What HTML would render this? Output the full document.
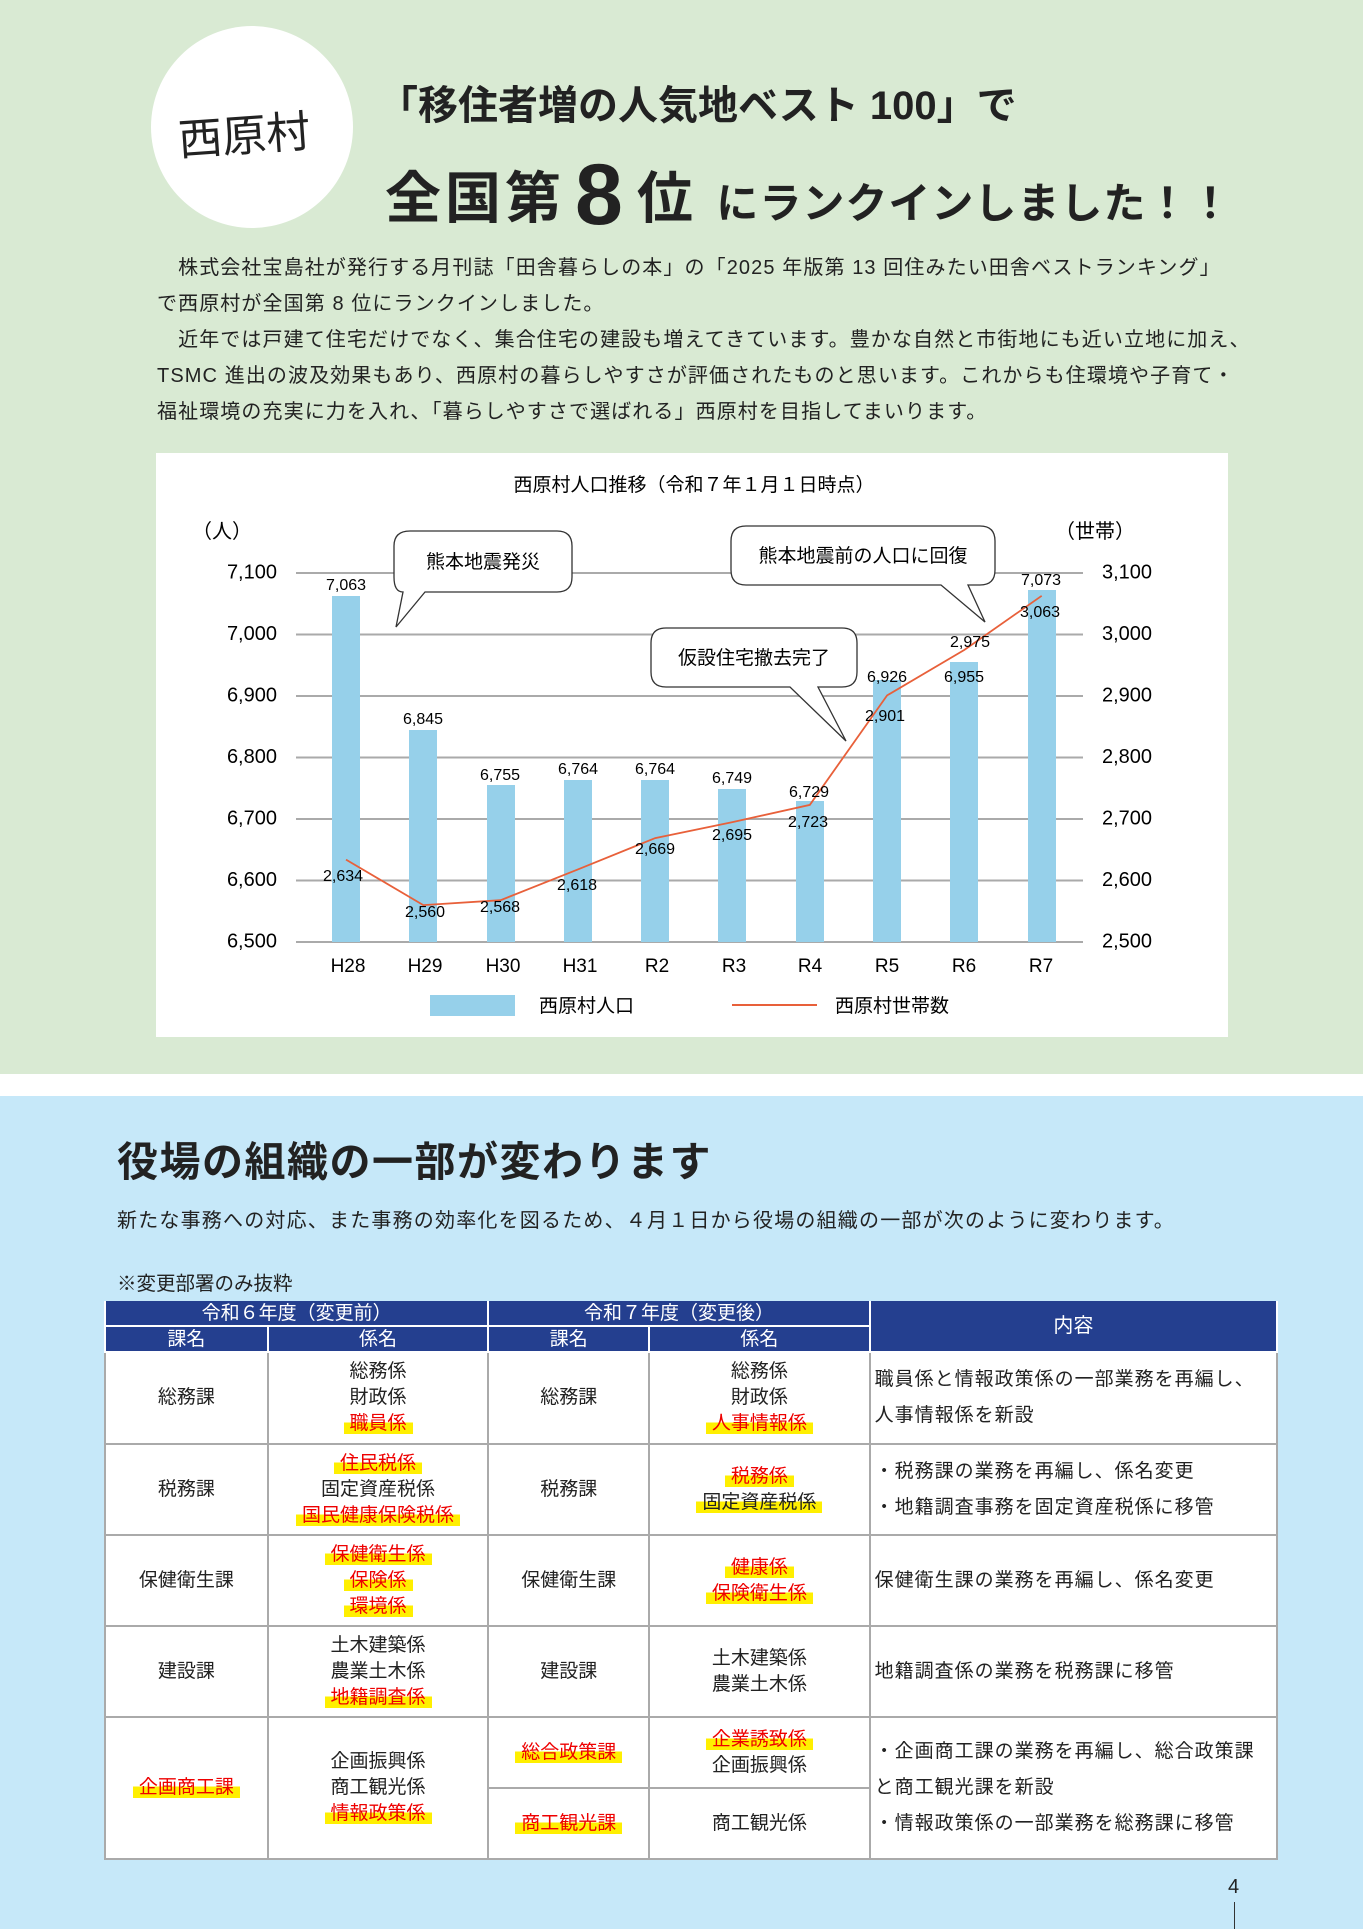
<!DOCTYPE html>
<html><head><meta charset="utf-8"><style>
*{margin:0;padding:0;box-sizing:border-box}
body{width:1363px;height:1929px;position:relative;background:#c6e8f9;font-family:"Liberation Sans","Noto Sans CJK JP",sans-serif;color:#222;overflow:hidden}
.a{position:absolute;white-space:nowrap}
table{position:absolute;left:104px;top:1301px;width:1174px;border-collapse:collapse;font-size:19px;background:#fff}
td,th{border:2px solid #aaa;text-align:center;line-height:26px;padding:0}
th{background:#243f8f;color:#fff;font-weight:normal;border:2px solid #fff;line-height:23px;border-top:none}
.r{color:#e00;background:linear-gradient(transparent 45%,#ffef00 45%);padding:0 6px}
.h{background:linear-gradient(transparent 45%,#ffef00 45%);padding:0 6px}
td.n{text-align:left;padding-left:4px;line-height:36px;letter-spacing:1px}
</style></head><body>
<div class="a" style="left:0;top:0;width:1363px;height:1074px;background:#d9ead3"></div>
<div class="a" style="left:0;top:1074px;width:1363px;height:22px;background:#fff"></div>
<div class="a" style="left:151px;top:26px;width:202px;height:202px;border-radius:50%;background:#fff"></div>
<div class="a" style="left:178px;top:100px;font-size:44px;font-family:'Noto Sans CJK JP',sans-serif;transform:rotate(-4deg)">西原村</div>
<div class="a" style="left:378px;top:73px;font-size:40px;font-weight:bold">「移住者増の人気地ベスト 100」で</div>
<div class="a" style="left:385px;top:140px;font-weight:bold;font-size:56px;letter-spacing:4px">全国第<span style="font-size:86px;margin:0 10px;position:relative;top:6px">8</span>位 <span style="font-size:42px;letter-spacing:1px">にランクインしました！！</span></div>
<div class="a" style="left:157px;top:250px;font-size:20px;letter-spacing:1.1px;line-height:36px;white-space:nowrap">
<div>　株式会社宝島社が発行する月刊誌「田舎暮らしの本」の「2025 年版第 13 回住みたい田舎ベストランキング」</div>
<div>で西原村が全国第 8 位にランクインしました。</div>
<div>　近年では戸建て住宅だけでなく、集合住宅の建設も増えてきています。豊かな自然と市街地にも近い立地に加え、</div>
<div>TSMC 進出の波及効果もあり、西原村の暮らしやすさが評価されたものと思います。これからも住環境や子育て・</div>
<div>福祉環境の充実に力を入れ、「暮らしやすさで選ばれる」西原村を目指してまいります。</div></div>
<svg class="a" style="left:0;top:0" width="1363" height="1100" font-family="Liberation Sans,Noto Sans CJK JP,sans-serif">
<rect x="156" y="453" width="1072" height="584" fill="#fff"/>
<text x="694" y="491" font-size="19" text-anchor="middle">西原村人口推移（令和７年１月１日時点）</text>
<g stroke="#aaa" stroke-width="2">
<line x1="296" x2="1083" y1="573" y2="573"/><line x1="296" x2="1083" y1="634.5" y2="634.5"/><line x1="296" x2="1083" y1="696" y2="696"/><line x1="296" x2="1083" y1="757.5" y2="757.5"/><line x1="296" x2="1083" y1="819" y2="819"/><line x1="296" x2="1083" y1="880.5" y2="880.5"/><line x1="296" x2="1083" y1="942" y2="942"/></g>
<g font-size="20" text-anchor="end" dominant-baseline="middle"><text x="277" y="573">7,100</text><text x="277" y="634.5">7,000</text><text x="277" y="696">6,900</text><text x="277" y="757.5">6,800</text><text x="277" y="819">6,700</text><text x="277" y="880.5">6,600</text><text x="277" y="942">6,500</text></g>
<g font-size="20" dominant-baseline="middle"><text x="1102" y="573">3,100</text><text x="1102" y="634.5">3,000</text><text x="1102" y="696">2,900</text><text x="1102" y="757.5">2,800</text><text x="1102" y="819">2,700</text><text x="1102" y="880.5">2,600</text><text x="1102" y="942">2,500</text></g>
<text x="222" y="538" font-size="20" text-anchor="middle">（人）</text><text x="1095" y="538" font-size="20" text-anchor="middle">（世帯）</text>
<g fill="#96d0ea">
<rect x="332" y="596" width="28" height="346"/><rect x="409" y="730" width="28" height="212"/><rect x="487" y="785" width="28" height="157"/><rect x="564" y="780" width="28" height="162"/><rect x="641" y="780" width="28" height="162"/><rect x="718" y="789" width="28" height="153"/><rect x="796" y="801" width="28" height="141"/><rect x="873" y="680" width="28" height="262"/><rect x="950" y="662" width="28" height="280"/><rect x="1028" y="590" width="28" height="352"/></g>
<polyline fill="none" stroke="#e8603a" stroke-width="1.8" points="346,859.6 423.3,905.1 500.6,900.2 577.9,869.4 655.2,838.1 732.5,822.1 809.8,804.9 887.1,695.4 964.4,649.9 1041.7,595.8"/>
<g font-size="16" text-anchor="middle" dominant-baseline="middle">
<text x="346" y="586">7,063</text><text x="423" y="720">6,845</text><text x="500" y="776">6,755</text><text x="578" y="770">6,764</text><text x="655" y="770">6,764</text><text x="732" y="779">6,749</text><text x="809" y="793">6,729</text><text x="887" y="678">6,926</text><text x="964" y="678">6,955</text><text x="1041" y="581">7,073</text>
<text x="343" y="877">2,634</text><text x="425" y="913">2,560</text><text x="500" y="908">2,568</text><text x="577" y="886">2,618</text><text x="655" y="850">2,669</text><text x="732" y="836">2,695</text><text x="808" y="823">2,723</text><text x="885" y="717">2,901</text><text x="970" y="643">2,975</text><text x="1040" y="613">3,063</text></g>
<g font-size="19" text-anchor="middle"><text x="348" y="972">H28</text><text x="425" y="972">H29</text><text x="503" y="972">H30</text><text x="580" y="972">H31</text><text x="657" y="972">R2</text><text x="734" y="972">R3</text><text x="810" y="972">R4</text><text x="887" y="972">R5</text><text x="964" y="972">R6</text><text x="1041" y="972">R7</text></g>
<rect x="430" y="995" width="85" height="21" fill="#96d0ea"/><text x="539" y="1012" font-size="19">西原村人口</text>
<line x1="732" x2="817" y1="1005" y2="1005" stroke="#e8603a" stroke-width="2"/><text x="835" y="1012" font-size="19">西原村世帯数</text>
<g fill="#fff" stroke="#333" stroke-width="1.3">
<path d="M410,531 H557 Q572,531 572,546 V577 Q572,592 557,592 H425 L396,627 L403,592 Q394,592 394,577 V546 Q394,531 410,531Z"/>
<path d="M746,526 H980 Q995,526 995,541 V570 Q995,585 980,585 H968 L985,622 L941,585 H746 Q731,585 731,570 V541 Q731,526 746,526Z"/>
<path d="M666,628 H842 Q857,628 857,643 V672 Q857,687 842,687 H818 L846,741 L790,687 H666 Q651,687 651,672 V643 Q651,628 666,628Z"/></g>
<g font-size="19" text-anchor="middle"><text x="483" y="568">熊本地震発災</text><text x="863" y="562">熊本地震前の人口に回復</text><text x="754" y="664">仮設住宅撤去完了</text></g>
</svg>
<div class="a" style="left:117px;top:1128px;font-size:41px;font-weight:bold;letter-spacing:1.5px">役場の組織の一部が変わります</div>
<div class="a" style="left:117px;top:1204px;font-size:20px;letter-spacing:1.2px">新たな事務への対応、また事務の効率化を図るため、４月１日から役場の組織の一部が次のように変わります。</div>
<div class="a" style="left:117px;top:1267px;font-size:19.5px">※変更部署のみ抜粋</div>
<table>
<colgroup><col style="width:163px"><col style="width:221px"><col style="width:161px"><col style="width:221px"><col style="width:408px"></colgroup>
<tr style="height:25px"><th colspan="2">令和６年度（変更前）</th><th colspan="2">令和７年度（変更後）</th><th rowspan="2" style="font-size:20px">内容</th></tr>
<tr style="height:26px"><th>課名</th><th>係名</th><th>課名</th><th>係名</th></tr>
<tr style="height:92px"><td>総務課</td><td>総務係<br>財政係<br><span class="r">職員係</span></td><td>総務課</td><td>総務係<br>財政係<br><span class="r">人事情報係</span></td><td class="n">職員係と情報政策係の一部業務を再編し、<br>人事情報係を新設</td></tr>
<tr style="height:91px"><td>税務課</td><td><span class="r">住民税係</span><br>固定資産税係<br><span class="r">国民健康保険税係</span></td><td>税務課</td><td><span class="r">税務係</span><br><span class="h">固定資産税係</span></td><td class="n">・税務課の業務を再編し、係名変更<br>・地籍調査事務を固定資産税係に移管</td></tr>
<tr style="height:91px"><td>保健衛生課</td><td><span class="r">保健衛生係</span><br><span class="r">保険係</span><br><span class="r">環境係</span></td><td>保健衛生課</td><td><span class="r">健康係</span><br><span class="r">保険衛生係</span></td><td class="n">保健衛生課の業務を再編し、係名変更</td></tr>
<tr style="height:91px"><td>建設課</td><td>土木建築係<br>農業土木係<br><span class="r">地籍調査係</span></td><td>建設課</td><td>土木建築係<br>農業土木係</td><td class="n">地籍調査係の業務を税務課に移管</td></tr>
<tr style="height:71px"><td rowspan="2"><span class="r">企画商工課</span></td><td rowspan="2">企画振興係<br>商工観光係<br><span class="r">情報政策係</span></td><td><span class="r">総合政策課</span></td><td><span class="r">企業誘致係</span><br>企画振興係</td><td rowspan="2" class="n">・企画商工課の業務を再編し、総合政策課<br>と商工観光課を新設<br>・情報政策係の一部業務を総務課に移管</td></tr>
<tr style="height:71px"><td><span class="r">商工観光課</span></td><td>商工観光係</td></tr>
</table>
<div class="a" style="left:1228px;top:1876px;font-size:20px">4</div>
<div class="a" style="left:1234px;top:1902px;width:1px;height:27px;background:#333"></div>
</body></html>
